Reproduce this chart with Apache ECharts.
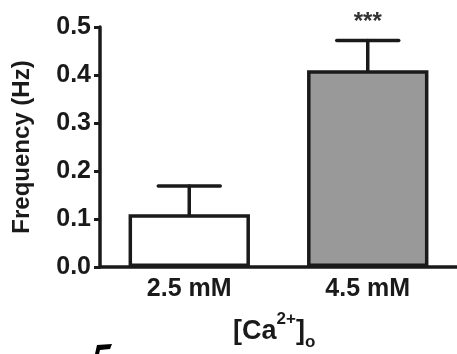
<!DOCTYPE html>
<html>
<head>
<meta charset="utf-8">
<script src="https://cdn.jsdelivr.net/npm/echarts@6/dist/echarts.min.js"></script>
<style>
  html, body { margin: 0; padding: 0; background: #fff; }
  #chart { width: 457px; height: 354px; }
</style>
</head>
<body>
<div id="chart"></div>
<script>
// data
const categories = ['2.5 mM', '4.5 mM'];
const means = [0.11, 0.41];
const sems = [0.059, 0.062];
const stars = ['', '***'];
const barColors = ['#ffffff', '#999999'];

const myChart = echarts.init(document.getElementById('chart'));
const font = 'Arial, "Liberation Sans", sans-serif';
const ink = '#1a1a1a';

const option = {
  animation: false,
  backgroundColor: '#fff',
  grid: { left: 100, right: -3, top: 27, bottom: 87 },
  xAxis: {
    type: 'category',
    data: categories,
    axisLine: { lineStyle: { color: ink, width: 3.5 } },
    axisTick: { alignWithLabel: true, length: 6, lineStyle: { color: ink, width: 3 } },
    axisLabel: { margin: 10, color: ink, fontFamily: font, fontWeight: 'bold', fontSize: 25 }
  },
  yAxis: {
    type: 'value',
    min: 0,
    max: 0.5,
    interval: 0.1,
    name: 'Frequency (Hz)',
    nameLocation: 'middle',
    nameGap: 66,
    nameTextStyle: { color: ink, fontFamily: font, fontWeight: 'bold', fontSize: 24 },
    splitLine: { show: false },
    axisLine: { show: true, lineStyle: { color: ink, width: 3.5 } },
    axisTick: { show: true, length: 6, lineStyle: { color: ink, width: 3 } },
    axisLabel: {
      margin: 9, color: ink, fontFamily: font, fontWeight: 'bold', fontSize: 25,
      formatter: (v) => v.toFixed(1)
    }
  },
  series: [
    {
      type: 'bar',
      barWidth: '68%',
      data: means.map((v, i) => ({
        value: v,
        itemStyle: { color: barColors[i], borderColor: ink, borderWidth: 3.5 }
      }))
    },
    {
      // 误差线 + 星号
      type: 'custom',
      z: 1,
      data: means.map((v, i) => [i, v, v + sems[i]]),
      renderItem: (params, api) => {
        const base = api.coord([api.value(0), api.value(1)]);
        const top = api.coord([api.value(0), api.value(2)]);
        const half = 31;
        const style = { stroke: ink, lineWidth: 3.5, lineCap: 'round' };
        const children = [
          { type: 'line', shape: { x1: base[0], y1: base[1], x2: top[0], y2: top[1] }, style },
          { type: 'line', shape: { x1: top[0] - half, y1: top[1], x2: top[0] + half, y2: top[1] }, style }
        ];
        const s = stars[params.dataIndex];
        if (s) {
          children.push({
            type: 'text',
            style: {
              text: s, x: top[0], y: top[1] - 18,
              align: 'center', verticalAlign: 'middle',
              fill: '#333', font: 'bold 24px ' + font
            }
          });
        }
        return { type: 'group', children };
      }
    }
  ],
  graphic: [
    {
      type: 'text',
      left: 233,
      top: 311,
      style: {
        rich: {
          b: { fontFamily: font, fontWeight: 'bold', fontSize: 27, fill: ink, lineHeight: 34, verticalAlign: 'bottom' },
          sup: { fontFamily: font, fontWeight: 'bold', fontSize: 17, fill: ink, lineHeight: 34, verticalAlign: 'top' },
          sub: { fontFamily: font, fontWeight: 'bold', fontSize: 17, fill: ink, lineHeight: 24, verticalAlign: 'bottom', padding: [0, 0, -6, 0] }
        },
        text: '{b|[Ca}{sup|2+}{b|]}{sub|o}'
      }
    },
    {
      type: 'polygon',
      shape: { points: [[95, 354], [97, 345], [112, 344], [110, 349], [100, 350], [99, 354]] },
      style: { fill: '#000' }
    }
  ]
};

myChart.setOption(option);
</script>
</body>
</html>
